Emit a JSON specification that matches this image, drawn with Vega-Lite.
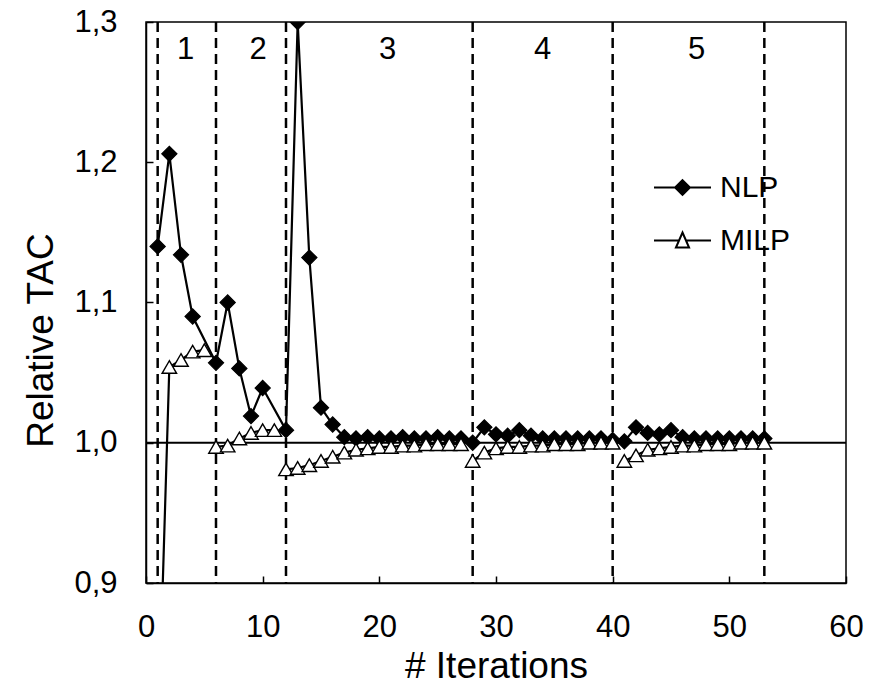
{
  "$schema": "https://vega.github.io/schema/vega-lite/v6.json",
  "width": 700,
  "height": 561,
  "autosize": {"type": "none"},
  "padding": {"left": 146, "top": 22, "right": 40, "bottom": 101},
  "config": {
    "font": "Liberation Sans",
    "view": {"stroke": "black", "strokeWidth": 1.5},
    "axis": {
      "grid": false,
      "domainColor": "black",
      "domainWidth": 1.5,
      "tickColor": "black",
      "tickWidth": 1.5,
      "tickSize": -7,
      "labelPadding": 36,
      "labelFontSize": 31,
      "labelColor": "black",
      "labelFlush": false,
      "labelOverlap": false,
      "titleFontSize": 37,
      "titleFontWeight": "normal",
      "titleColor": "black"
    },
    "legend": {
      "orient": "none",
      "legendX": 507,
      "legendY": 136,
      "padding": 0,
      "rowPadding": 8,
      "symbolSize": 3249,
      "symbolStrokeWidth": 2,
      "symbolOpacity": 1,
      "labelFontSize": 30,
      "labelColor": "black",
      "labelOffset": 8
    }
  },
  "datasets": {
    "series": [
      {"x": 1, "v": 1.140, "series": "NLP", "grp": "N"},
      {"x": 2, "v": 1.206, "series": "NLP", "grp": "N"},
      {"x": 3, "v": 1.134, "series": "NLP", "grp": "N"},
      {"x": 4, "v": 1.090, "series": "NLP", "grp": "N"},
      {"x": 6, "v": 1.057, "series": "NLP", "grp": "N"},
      {"x": 7, "v": 1.100, "series": "NLP", "grp": "N"},
      {"x": 8, "v": 1.053, "series": "NLP", "grp": "N"},
      {"x": 9, "v": 1.019, "series": "NLP", "grp": "N"},
      {"x": 10, "v": 1.039, "series": "NLP", "grp": "N"},
      {"x": 12, "v": 1.009, "series": "NLP", "grp": "N"},
      {"x": 13, "v": 1.300, "series": "NLP", "grp": "N"},
      {"x": 14, "v": 1.132, "series": "NLP", "grp": "N"},
      {"x": 15, "v": 1.025, "series": "NLP", "grp": "N"},
      {"x": 16, "v": 1.013, "series": "NLP", "grp": "N"},
      {"x": 17, "v": 1.004, "series": "NLP", "grp": "N"},
      {"x": 18, "v": 1.003, "series": "NLP", "grp": "N"},
      {"x": 19, "v": 1.004, "series": "NLP", "grp": "N"},
      {"x": 20, "v": 1.003, "series": "NLP", "grp": "N"},
      {"x": 21, "v": 1.003, "series": "NLP", "grp": "N"},
      {"x": 22, "v": 1.004, "series": "NLP", "grp": "N"},
      {"x": 23, "v": 1.003, "series": "NLP", "grp": "N"},
      {"x": 24, "v": 1.003, "series": "NLP", "grp": "N"},
      {"x": 25, "v": 1.004, "series": "NLP", "grp": "N"},
      {"x": 26, "v": 1.003, "series": "NLP", "grp": "N"},
      {"x": 27, "v": 1.003, "series": "NLP", "grp": "N"},
      {"x": 28, "v": 1.000, "series": "NLP", "grp": "N"},
      {"x": 29, "v": 1.011, "series": "NLP", "grp": "N"},
      {"x": 30, "v": 1.006, "series": "NLP", "grp": "N"},
      {"x": 31, "v": 1.005, "series": "NLP", "grp": "N"},
      {"x": 32, "v": 1.009, "series": "NLP", "grp": "N"},
      {"x": 33, "v": 1.005, "series": "NLP", "grp": "N"},
      {"x": 34, "v": 1.003, "series": "NLP", "grp": "N"},
      {"x": 35, "v": 1.003, "series": "NLP", "grp": "N"},
      {"x": 36, "v": 1.003, "series": "NLP", "grp": "N"},
      {"x": 37, "v": 1.003, "series": "NLP", "grp": "N"},
      {"x": 38, "v": 1.003, "series": "NLP", "grp": "N"},
      {"x": 39, "v": 1.003, "series": "NLP", "grp": "N"},
      {"x": 40, "v": 1.002, "series": "NLP", "grp": "N"},
      {"x": 41, "v": 1.001, "series": "NLP", "grp": "N"},
      {"x": 42, "v": 1.011, "series": "NLP", "grp": "N"},
      {"x": 43, "v": 1.007, "series": "NLP", "grp": "N"},
      {"x": 44, "v": 1.006, "series": "NLP", "grp": "N"},
      {"x": 45, "v": 1.009, "series": "NLP", "grp": "N"},
      {"x": 46, "v": 1.004, "series": "NLP", "grp": "N"},
      {"x": 47, "v": 1.003, "series": "NLP", "grp": "N"},
      {"x": 48, "v": 1.003, "series": "NLP", "grp": "N"},
      {"x": 49, "v": 1.003, "series": "NLP", "grp": "N"},
      {"x": 50, "v": 1.003, "series": "NLP", "grp": "N"},
      {"x": 51, "v": 1.003, "series": "NLP", "grp": "N"},
      {"x": 52, "v": 1.003, "series": "NLP", "grp": "N"},
      {"x": 53, "v": 1.003, "series": "NLP", "grp": "N"},
      {"x": 1, "v": 0.780, "series": "MILP", "grp": "M1"},
      {"x": 2, "v": 1.054, "series": "MILP", "grp": "M1"},
      {"x": 3, "v": 1.059, "series": "MILP", "grp": "M1"},
      {"x": 4, "v": 1.065, "series": "MILP", "grp": "M1"},
      {"x": 5, "v": 1.066, "series": "MILP", "grp": "M1"},
      {"x": 6, "v": 0.997, "series": "MILP", "grp": "M2"},
      {"x": 7, "v": 0.998, "series": "MILP", "grp": "M2"},
      {"x": 8, "v": 1.003, "series": "MILP", "grp": "M2"},
      {"x": 9, "v": 1.007, "series": "MILP", "grp": "M2"},
      {"x": 10, "v": 1.009, "series": "MILP", "grp": "M2"},
      {"x": 11, "v": 1.009, "series": "MILP", "grp": "M2"},
      {"x": 12, "v": 0.981, "series": "MILP", "grp": "M3"},
      {"x": 13, "v": 0.982, "series": "MILP", "grp": "M3"},
      {"x": 14, "v": 0.984, "series": "MILP", "grp": "M3"},
      {"x": 15, "v": 0.987, "series": "MILP", "grp": "M3"},
      {"x": 16, "v": 0.990, "series": "MILP", "grp": "M3"},
      {"x": 17, "v": 0.993, "series": "MILP", "grp": "M3"},
      {"x": 18, "v": 0.995, "series": "MILP", "grp": "M3"},
      {"x": 19, "v": 0.996, "series": "MILP", "grp": "M3"},
      {"x": 20, "v": 0.997, "series": "MILP", "grp": "M3"},
      {"x": 21, "v": 0.997, "series": "MILP", "grp": "M3"},
      {"x": 22, "v": 0.998, "series": "MILP", "grp": "M3"},
      {"x": 23, "v": 0.998, "series": "MILP", "grp": "M3"},
      {"x": 24, "v": 0.999, "series": "MILP", "grp": "M3"},
      {"x": 25, "v": 0.999, "series": "MILP", "grp": "M3"},
      {"x": 26, "v": 0.999, "series": "MILP", "grp": "M3"},
      {"x": 27, "v": 0.999, "series": "MILP", "grp": "M3"},
      {"x": 28, "v": 0.987, "series": "MILP", "grp": "M4"},
      {"x": 29, "v": 0.993, "series": "MILP", "grp": "M4"},
      {"x": 30, "v": 0.996, "series": "MILP", "grp": "M4"},
      {"x": 31, "v": 0.997, "series": "MILP", "grp": "M4"},
      {"x": 32, "v": 0.997, "series": "MILP", "grp": "M4"},
      {"x": 33, "v": 0.998, "series": "MILP", "grp": "M4"},
      {"x": 34, "v": 0.998, "series": "MILP", "grp": "M4"},
      {"x": 35, "v": 0.999, "series": "MILP", "grp": "M4"},
      {"x": 36, "v": 0.999, "series": "MILP", "grp": "M4"},
      {"x": 37, "v": 0.999, "series": "MILP", "grp": "M4"},
      {"x": 38, "v": 1.000, "series": "MILP", "grp": "M4"},
      {"x": 39, "v": 1.000, "series": "MILP", "grp": "M4"},
      {"x": 40, "v": 1.000, "series": "MILP", "grp": "M4"},
      {"x": 41, "v": 0.987, "series": "MILP", "grp": "M5"},
      {"x": 42, "v": 0.991, "series": "MILP", "grp": "M5"},
      {"x": 43, "v": 0.995, "series": "MILP", "grp": "M5"},
      {"x": 44, "v": 0.996, "series": "MILP", "grp": "M5"},
      {"x": 45, "v": 0.997, "series": "MILP", "grp": "M5"},
      {"x": 46, "v": 0.998, "series": "MILP", "grp": "M5"},
      {"x": 47, "v": 0.998, "series": "MILP", "grp": "M5"},
      {"x": 48, "v": 0.999, "series": "MILP", "grp": "M5"},
      {"x": 49, "v": 0.999, "series": "MILP", "grp": "M5"},
      {"x": 50, "v": 0.999, "series": "MILP", "grp": "M5"},
      {"x": 51, "v": 1.000, "series": "MILP", "grp": "M5"},
      {"x": 52, "v": 1.000, "series": "MILP", "grp": "M5"},
      {"x": 53, "v": 1.000, "series": "MILP", "grp": "M5"}
    ],
    "bounds": [{"x": 1}, {"x": 6}, {"x": 12}, {"x": 28}, {"x": 40}, {"x": 53}],
    "phases": [
      {"x": 3.4, "label": "1"},
      {"x": 9.6, "label": "2"},
      {"x": 20.7, "label": "3"},
      {"x": 34.0, "label": "4"},
      {"x": 47.2, "label": "5"}
    ]
  },
  "layer": [
    {
      "data": {"name": "bounds"},
      "mark": {"type": "rule", "color": "black", "strokeWidth": 2.5, "strokeDash": [10, 6]},
      "encoding": {
        "x": {
          "field": "x",
          "type": "quantitative",
          "scale": {"domain": [0, 60], "nice": false, "zero": false},
          "axis": {
            "title": "# Iterations",
            "values": [0, 10, 20, 30, 40, 50, 60],
            "titleBaseline": "alphabetic",
            "titleY": 94,
            "titleX": 350
          }
        }
      }
    },
    {
      "data": {"values": [{}]},
      "mark": {"type": "rule", "color": "black", "strokeWidth": 2},
      "encoding": {
        "y": {
          "datum": 1,
          "type": "quantitative",
          "scale": {"domain": [0.9, 1.3], "nice": false, "zero": false},
          "axis": {
            "title": "Relative TAC",
            "values": [0.9, 1.0, 1.1, 1.2, 1.3],
            "labelExpr": "replace(format(datum.value, '.1f'), '.', ',')",
            "titleBaseline": "alphabetic",
            "titleAlign": "center",
            "titleX": -94,
            "titleY": 318
          }
        }
      }
    },
    {
      "data": {"name": "series"},
      "mark": {"type": "line", "color": "black", "strokeWidth": 2.2, "clip": true},
      "encoding": {
        "x": {"field": "x", "type": "quantitative"},
        "y": {"field": "v", "type": "quantitative"},
        "detail": {"field": "grp", "type": "nominal"}
      }
    },
    {
      "data": {"name": "series"},
      "transform": [{"filter": "datum.series === 'NLP'"}],
      "mark": {"type": "point", "shape": "diamond", "filled": true, "color": "black", "stroke": "black", "strokeWidth": 1.2, "opacity": 1, "size": 230, "clip": true},
      "encoding": {
        "x": {"field": "x", "type": "quantitative"},
        "y": {"field": "v", "type": "quantitative"}
      }
    },
    {
      "data": {"name": "series"},
      "transform": [{"filter": "datum.series === 'MILP'"}],
      "mark": {"type": "point", "shape": "triangle-up", "filled": true, "fill": "white", "stroke": "black", "strokeWidth": 1.4, "opacity": 1, "size": 210, "clip": true},
      "encoding": {
        "x": {"field": "x", "type": "quantitative"},
        "y": {"field": "v", "type": "quantitative"}
      }
    },
    {
      "data": {"name": "series"},
      "transform": [{"filter": "datum.x > 1000"}],
      "mark": {"type": "point", "filled": true, "strokeWidth": 2, "opacity": 1},
      "encoding": {
        "x": {"field": "x", "type": "quantitative"},
        "y": {"field": "v", "type": "quantitative"},
        "shape": {
          "field": "series",
          "type": "nominal",
          "title": null,
          "scale": {
            "domain": ["NLP", "MILP"],
            "range": ["M-1,0H1M0,-0.26L0.26,0L0,0.26L-0.26,0Z", "M-1,0H-0.12M0.12,0H1M0,-0.28L0.23,0.245L-0.23,0.245Z"]
          }
        },
        "fill": {
          "field": "series",
          "type": "nominal",
          "title": null,
          "scale": {"domain": ["NLP", "MILP"], "range": ["black", "white"]}
        },
        "stroke": {
          "field": "series",
          "type": "nominal",
          "title": null,
          "scale": {"domain": ["NLP", "MILP"], "range": ["black", "black"]}
        }
      }
    },
    {
      "data": {"name": "phases"},
      "mark": {"type": "text", "fontSize": 31, "color": "black", "align": "center", "baseline": "middle"},
      "encoding": {
        "x": {"field": "x", "type": "quantitative"},
        "y": {"datum": 1.28, "type": "quantitative"},
        "text": {"field": "label"}
      }
    }
  ]
}
